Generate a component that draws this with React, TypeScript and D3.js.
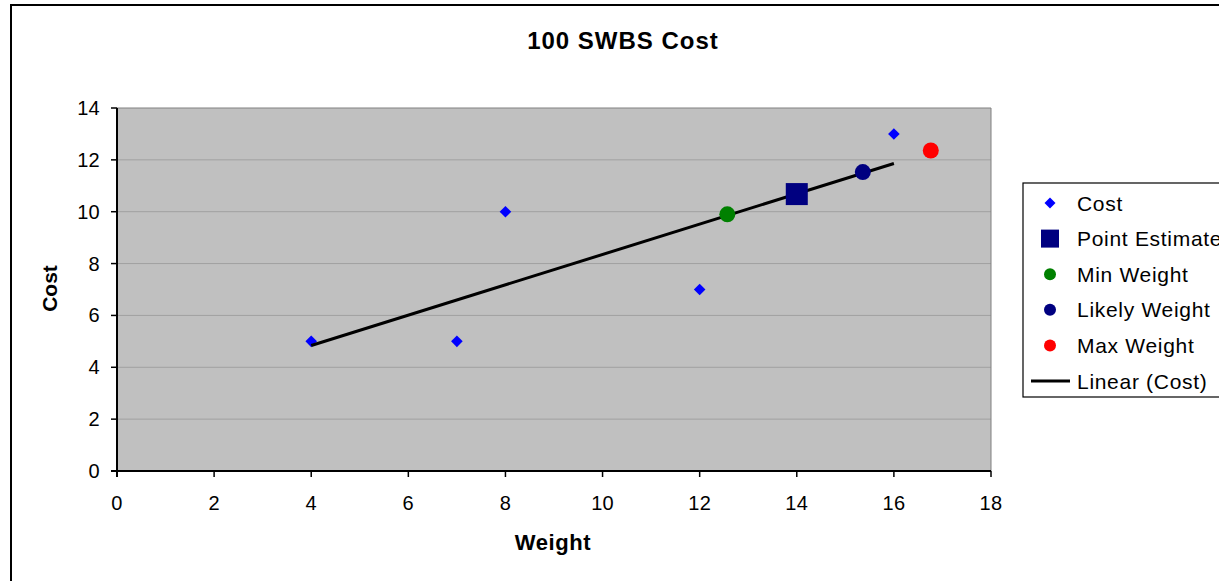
import React from "react";
import * as d3 from "d3";

const costWeights = [4, 7, 8, 12, 16];
const costValues = [5, 5, 10, 7, 13];
const pointEstimate = [{ x: 14, y: 10.68 }];
const minWeight = [{ x: 12.57, y: 9.9 }];
const likelyWeight = [{ x: 15.36, y: 11.53 }];
const maxWeight = [{ x: 16.76, y: 12.36 }];
const xTicks = [0, 2, 4, 6, 8, 10, 12, 14, 16, 18];
const yTicks = [0, 2, 4, 6, 8, 10, 12, 14];
const legendLabels = ["Cost", "Point Estimate", "Min Weight", "Likely Weight", "Max Weight", "Linear (Cost)"];

const W = 1219;
const H = 581;
const plot = { left: 117, right: 991, top: 108, bottom: 471 };
const FONT = "Arial, 'Liberation Sans', Helvetica, sans-serif";

export default function App() {
  const x = d3.scaleLinear().domain([0, 18]).range([plot.left, plot.right]);
  const y = d3.scaleLinear().domain([0, 14]).range([plot.bottom, plot.top]);

  // linear least-squares trend line (what the chart's "Linear (Cost)" represents)
  const mx = d3.mean(costWeights)!;
  const my = d3.mean(costValues)!;
  const sxy = d3.sum(costWeights.map((w, i) => (w - mx) * (costValues[i] - my)));
  const sxx = d3.sum(costWeights.map((w) => (w - mx) * (w - mx)));
  const slope = sxy / sxx;
  const intercept = my - slope * mx;
  const [x0, x1] = d3.extent(costWeights) as [number, number];
  const trend = [
    [x0, intercept + slope * x0],
    [x1, intercept + slope * x1],
  ];
  const line = d3
    .line<number[]>()
    .x((d) => x(d[0]))
    .y((d) => y(d[1]));

  const diamond = (cx: number, cy: number, r: number) =>
    `M${cx},${cy - r}L${cx + r},${cy}L${cx},${cy + r}L${cx - r},${cy}Z`;

  const legendX = 1023;
  const legendTop = 183;
  const rowY = (i: number) => 203 + i * 35.6;
  const markerX = 1050;

  return (
    <svg
      width={W}
      height={H}
      style={{ position: "fixed", left: 0, top: 0, background: "#fff" }}
      fontFamily={FONT}
    >
      {/* outer chart border */}
      <rect x={11} y={5} width={W + 50} height={H + 50} fill="#fff" stroke="#000" strokeWidth={2} />

      {/* title */}
      <text x={623} y={49} textAnchor="middle" fontSize={24} fontWeight="bold" letterSpacing={1}>
        100 SWBS Cost
      </text>

      {/* plot background */}
      <rect
        x={plot.left}
        y={plot.top}
        width={plot.right - plot.left}
        height={plot.bottom - plot.top}
        fill="#C0C0C0"
      />
      {/* gridlines */}
      {yTicks.filter((t) => t > 0).map((t) => (
        <line
          key={`g${t}`}
          x1={plot.left}
          x2={plot.right}
          y1={y(t)}
          y2={y(t)}
          stroke={t === 14 ? "#808080" : "#A0A0A0"}
          strokeWidth={1}
        />
      ))}
      <line x1={plot.right} x2={plot.right} y1={plot.top} y2={plot.bottom} stroke="#808080" strokeWidth={1} />

      {/* axes */}
      <line x1={plot.left} x2={plot.left} y1={plot.top} y2={plot.bottom + 6} stroke="#000" strokeWidth={2} />
      <line x1={plot.left - 6} x2={plot.right} y1={plot.bottom} y2={plot.bottom} stroke="#000" strokeWidth={2} />
      {yTicks.map((t) => (
        <g key={`yt${t}`}>
          <line x1={plot.left - 6} x2={plot.left} y1={y(t)} y2={y(t)} stroke="#000" strokeWidth={1.5} />
          <text x={100} y={y(t) + 7} textAnchor="end" fontSize={20} letterSpacing={0.3}>
            {t}
          </text>
        </g>
      ))}
      {xTicks.map((t) => (
        <g key={`xt${t}`}>
          <line x1={x(t)} x2={x(t)} y1={plot.bottom} y2={plot.bottom + 6} stroke="#000" strokeWidth={1.5} />
          <text x={x(t)} y={510} textAnchor="middle" fontSize={20} letterSpacing={0.3}>
            {t}
          </text>
        </g>
      ))}

      {/* axis titles */}
      <text x={553} y={550} textAnchor="middle" fontSize={22} fontWeight="bold" letterSpacing={0.6}>
        Weight
      </text>
      <text
        transform={`translate(56.5,288.5) rotate(-90)`}
        textAnchor="middle"
        fontSize={21}
        fontWeight="bold"
      >
        Cost
      </text>

      {/* cost points */}
      {costWeights.map((w, i) => (
        <path key={`c${i}`} d={diamond(x(w), y(costValues[i]), 5.8)} fill="#0000FF" />
      ))}

      {/* trend line */}
      <path d={line(trend) || ""} fill="none" stroke="#000" strokeWidth={3} />

      {/* special points */}
      {pointEstimate.map((p, i) => (
        <rect key={`pe${i}`} x={x(p.x) - 11} y={y(p.y) - 11} width={22} height={22} fill="#000080" />
      ))}
      {minWeight.map((p, i) => (
        <circle key={`mn${i}`} cx={x(p.x)} cy={y(p.y)} r={8} fill="#008000" />
      ))}
      {likelyWeight.map((p, i) => (
        <circle key={`lk${i}`} cx={x(p.x)} cy={y(p.y)} r={8} fill="#000080" />
      ))}
      {maxWeight.map((p, i) => (
        <circle key={`mx${i}`} cx={x(p.x)} cy={y(p.y)} r={8} fill="#FF0000" />
      ))}

      {/* legend */}
      <rect x={legendX} y={legendTop} width={300} height={214} fill="#fff" stroke="#000" strokeWidth={1.2} />
      <path d={diamond(markerX, rowY(0), 5.5)} fill="#0000FF" />
      <rect x={markerX - 9} y={rowY(1) - 9} width={18} height={18} fill="#000080" />
      <circle cx={markerX} cy={rowY(2)} r={6} fill="#008000" />
      <circle cx={markerX} cy={rowY(3)} r={6} fill="#000080" />
      <circle cx={markerX} cy={rowY(4)} r={6} fill="#FF0000" />
      <line x1={1031} x2={1070} y1={rowY(5)} y2={rowY(5)} stroke="#000" strokeWidth={3} />
      {legendLabels.map((l, i) => (
        <text key={l} x={1077} y={rowY(i) + 7.5} fontSize={21} letterSpacing={0.7}>
          {l}
        </text>
      ))}
    </svg>
  );
}
